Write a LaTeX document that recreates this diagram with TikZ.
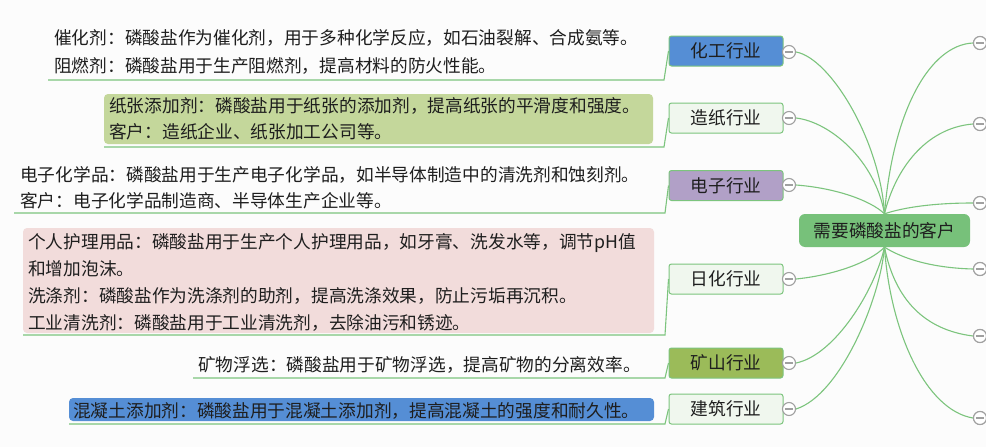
\documentclass[tikz,border=0pt]{standalone}
\usepackage{fontspec}
\setmainfont{Noto Sans CJK SC}
\definecolor{bg}{HTML}{FCFCFC}
\definecolor{lnk}{HTML}{7CC47D}
\definecolor{txt}{HTML}{1E1E1E}
\definecolor{cblue}{HTML}{558ED5}
\definecolor{cpurple}{HTML}{B1A0C7}
\definecolor{colive}{HTML}{9BBB59}
\definecolor{clight}{HTML}{F0F7EE}
\definecolor{cmain}{HTML}{77C17A}
\definecolor{cgreenbox}{HTML}{C4D79B}
\definecolor{cpink}{HTML}{F2DCDB}
\definecolor{cgrey}{HTML}{A0A0A0}
\tikzset{
  txtfont/.style={font=\fontsize{17.7}{26}\selectfont, text=txt},
  leafline/.style={txtfont, anchor=base west, inner sep=0pt},
  branch/.style={txtfont, draw=lnk, line width=1pt, rounded corners=2.5pt,
     minimum width=114pt, minimum height=30pt, inner sep=0pt,
     text height=14.7pt, text depth=1.2pt},
  rootnode/.style={txtfont, fill=cmain, rounded corners=6pt,
     minimum width=171pt, minimum height=33pt, inner sep=0pt,
     text height=14.7pt, text depth=1.2pt},
  toggle/.style={circle, draw=cgrey, fill=white, line width=1.1pt,
     minimum size=13pt, inner sep=0pt,
     path picture={\draw[cgrey, line width=1.1pt] ([xshift=-4.2pt]path picture bounding box.center) -- ([xshift=4.2pt]path picture bounding box.center);}},
  link/.style={draw=lnk, line width=1.1pt},
}
\begin{document}
\begin{tikzpicture}[x=1pt, y=-1pt]
\fill[bg] (0,0) rectangle (986,447);
\useasboundingbox (0,0) rectangle (986,447);

% leaf backgrounds
\fill[cgreenbox, rounded corners=4pt] (104,94) rectangle (653,144);
\fill[cpink, rounded corners=4pt] (23,228) rectangle (654,333);
\fill[cblue, rounded corners=4pt] (69,398) rectangle (654,421);

% root
\node[rootnode] (root) at (884.5,230.5) {需要磷酸盐的客户};

% branch nodes
\node[branch, fill=cblue]   (b1) at (726,51)  {化工行业};
\node[branch, fill=clight]  (b2) at (726,118) {造纸行业};
\node[branch, fill=cpurple] (b3) at (726,185.5) {电子行业};
\node[branch, fill=clight]  (b4) at (726,279) {日化行业};
\node[branch, fill=colive]  (b5) at (726,363) {矿山行业};
\node[branch, fill=clight]  (b6) at (726,409) {建筑行业};

% toggles left
\node[toggle] (t1) at (789,52)  {};
\node[toggle] (t2) at (789,118) {};
\node[toggle] (t3) at (789,185) {};
\node[toggle] (t4) at (789,279) {};
\node[toggle] (t5) at (789,363) {};
\node[toggle] (t6) at (789,409) {};

% toggles right (cut by page edge)
\node[toggle] (r1) at (980,43)  {};
\node[toggle] (r2) at (980,124) {};
\node[toggle] (r3) at (980,203) {};
\node[toggle] (r4) at (980,269) {};
\node[toggle] (r5) at (980,336) {};
\node[toggle] (r6) at (980,418) {};

% curves left
\draw[link] (t1.east) .. controls (830,58) and (880,140) .. (root.north);
\draw[link] (t2.east) .. controls (830,122) and (875,160) .. (root.north);
\draw[link] (t3.east) .. controls (835,188) and (870,200) .. (root.north);
\draw[link] (t4.east) .. controls (835,275) and (870,262) .. (root.south);
\draw[link] (t5.east) .. controls (835,355) and (875,290) .. (root.south);
\draw[link] (t6.east) .. controls (840,395) and (880,300) .. (root.south);
% curves right
\draw[link] (root.north) .. controls (893,110) and (930,45) .. (r1.west);
\draw[link] (root.north) .. controls (895,170) and (925,128) .. (r2.west);
\draw[link] (root.north) .. controls (905,207) and (935,203) .. (r3.west);
\draw[link] (root.south) .. controls (905,260) and (935,268) .. (r4.west);
\draw[link] (root.south) .. controls (895,300) and (925,330) .. (r5.west);
\draw[link] (root.south) .. controls (890,330) and (925,410) .. (r6.west);
% redraw right toggles over curves
\node[toggle] at (r1) {};
\node[toggle] at (r2) {};
\node[toggle] at (r3) {};
\node[toggle] at (r4) {};
\node[toggle] at (r5) {};
\node[toggle] at (r6) {};

% leaf texts
\node[leafline] (l1a) at (54,45)  {催化剂：磷酸盐作为催化剂，用于多种化学反应，如石油裂解、合成氨等。};
\node[leafline] (l1b) at (54,72)  {阻燃剂：磷酸盐用于生产阻燃剂，提高材料的防火性能。};
\node[leafline] (l2a) at (109,112) {纸张添加剂：磷酸盐用于纸张的添加剂，提高纸张的平滑度和强度。};
\node[leafline] (l2b) at (109,138) {客户：造纸企业、纸张加工公司等。};
\node[leafline] (l3a) at (20,181) {电子化学品：磷酸盐用于生产电子化学品，如半导体制造中的清洗剂和蚀刻剂。};
\node[leafline] (l3b) at (20,207) {客户：电子化学品制造商、半导体生产企业等。};
\node[leafline] (l4a) at (28,248) {个人护理用品：磷酸盐用于生产个人护理用品，如牙膏、洗发水等，调节pH值};
\node[leafline] (l4b) at (28,275) {和增加泡沫。};
\node[leafline] (l4c) at (28,302) {洗涤剂：磷酸盐作为洗涤剂的助剂，提高洗涤效果，防止污垢再沉积。};
\node[leafline] (l4d) at (28,329) {工业清洗剂：磷酸盐用于工业清洗剂，去除油污和锈迹。};
\node[leafline] (l5a) at (198,371) {矿物浮选：磷酸盐用于矿物浮选，提高矿物的分离效率。};
\node[leafline] (l6a) at (73,417) {混凝土添加剂：磷酸盐用于混凝土添加剂，提高混凝土的强度和耐久性。};

% underline coordinates
\coordinate (u1s) at (48,80);   \coordinate (u1e) at (664,80);
\coordinate (u2s) at (104,147); \coordinate (u2e) at (664,147);
\coordinate (u3s) at (14,213);  \coordinate (u3e) at (665,213);
\coordinate (u4s) at (23,335);  \coordinate (u4e) at (665,335);
\coordinate (u5s) at (193,378); \coordinate (u5e) at (665,378);
\coordinate (u6s) at (69,424);  \coordinate (u6e) at (665,424);

\draw[link] (b1.west) -- (u1e) -- (u1s);
\draw[link] (b2.west) -- (u2e) -- (u2s);
\draw[link] (b3.west) -- (u3e) -- (u3s);
\draw[link] (b4.west) -- (u4e) -- (u4s);
\draw[link] (b5.west) -- (u5e) -- (u5s);
\draw[link] (b6.west) -- (u6e) -- (u6s);
\end{tikzpicture}
\end{document}
